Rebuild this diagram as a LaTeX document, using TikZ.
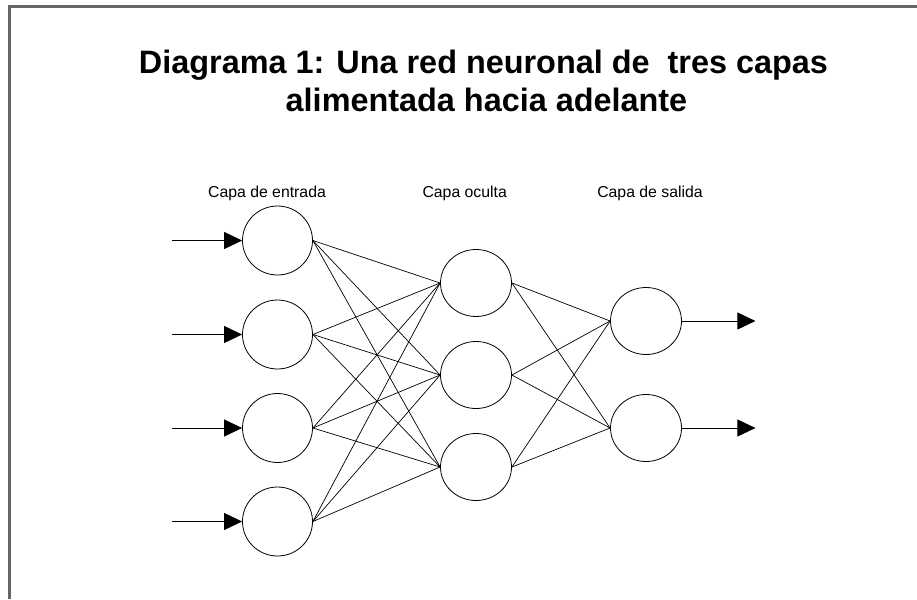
\documentclass[tikz,border=0pt]{standalone}
\usepackage{fontspec}
\setmainfont{Liberation Sans}
\usetikzlibrary{shapes.geometric,arrows.meta}
\begin{document}
\begin{tikzpicture}[x=1pt,y=-1pt,
  neuron/.style={draw=black,line width=0.8pt,ellipse,inner sep=0pt,minimum width=71pt,minimum height=67pt},
  inneuron/.style={neuron,minimum width=70pt,minimum height=69pt},
  link/.style={draw=black,line width=0.7pt},
  io/.style={draw=black,line width=0.8pt,-{Triangle[length=18pt,width=17pt]}},
  titletext/.style={font=\fontsize{32.4}{37}\selectfont\bfseries,inner sep=0pt,anchor=base},
  layertext/.style={font=\fontsize{15.8}{18}\selectfont,inner sep=0pt,anchor=base},
  frame/.style={draw=black!60,line width=2.2pt}]
\useasboundingbox (0,0) rectangle (917,599);
\fill[white] (0,0) rectangle (917,599);
\draw[frame] (9.5,599) -- (9.5,6.5) -- (917,6.5);
% title
\node[titletext] (t1) at (483.5,74) {Diagrama 1: Una red neuronal de\ \ tres capas};
\node[titletext] (t2) at (486.5,111) {alimentada hacia adelante};
% layer labels
\node[layertext] (l1) at (267,197) {Capa de entrada};
\node[layertext] (l2) at (464.7,197) {Capa oculta};
\node[layertext] (l3) at (650,197) {Capa de salida};
% neurons
\node[inneuron] (i1) at (277.5,240.5) {};
\node[inneuron] (i2) at (277.5,334.5) {};
\node[inneuron] (i3) at (277.5,428) {};
\node[inneuron] (i4) at (277.5,521.5) {};
\node[neuron] (h1) at (476,283) {};
\node[neuron] (h2) at (476,375) {};
\node[neuron] (h3) at (476,467) {};
\node[neuron] (o1) at (646,321) {};
\node[neuron] (o2) at (646,428) {};
% links
\foreach \i in {1,...,4}{
  \foreach \h in {1,2,3}{
    \draw[link] (i\i.east) -- (h\h.west);
  }
}
\foreach \h in {1,2,3}{
  \foreach \o in {1,2}{
    \draw[link] (h\h.east) -- (o\o.west);
  }
}
% inputs and outputs
\foreach \i in {1,...,4}{
  \coordinate (in\i) at ([xshift=-70.5pt]i\i.west);
  \draw[io] (in\i) -- (i\i.west);
}
\foreach \o in {1,2}{
  \coordinate (out\o) at ([xshift=73.5pt]o\o.east);
  \draw[io] (o\o.east) -- (out\o);
}
\end{tikzpicture}
\end{document}
